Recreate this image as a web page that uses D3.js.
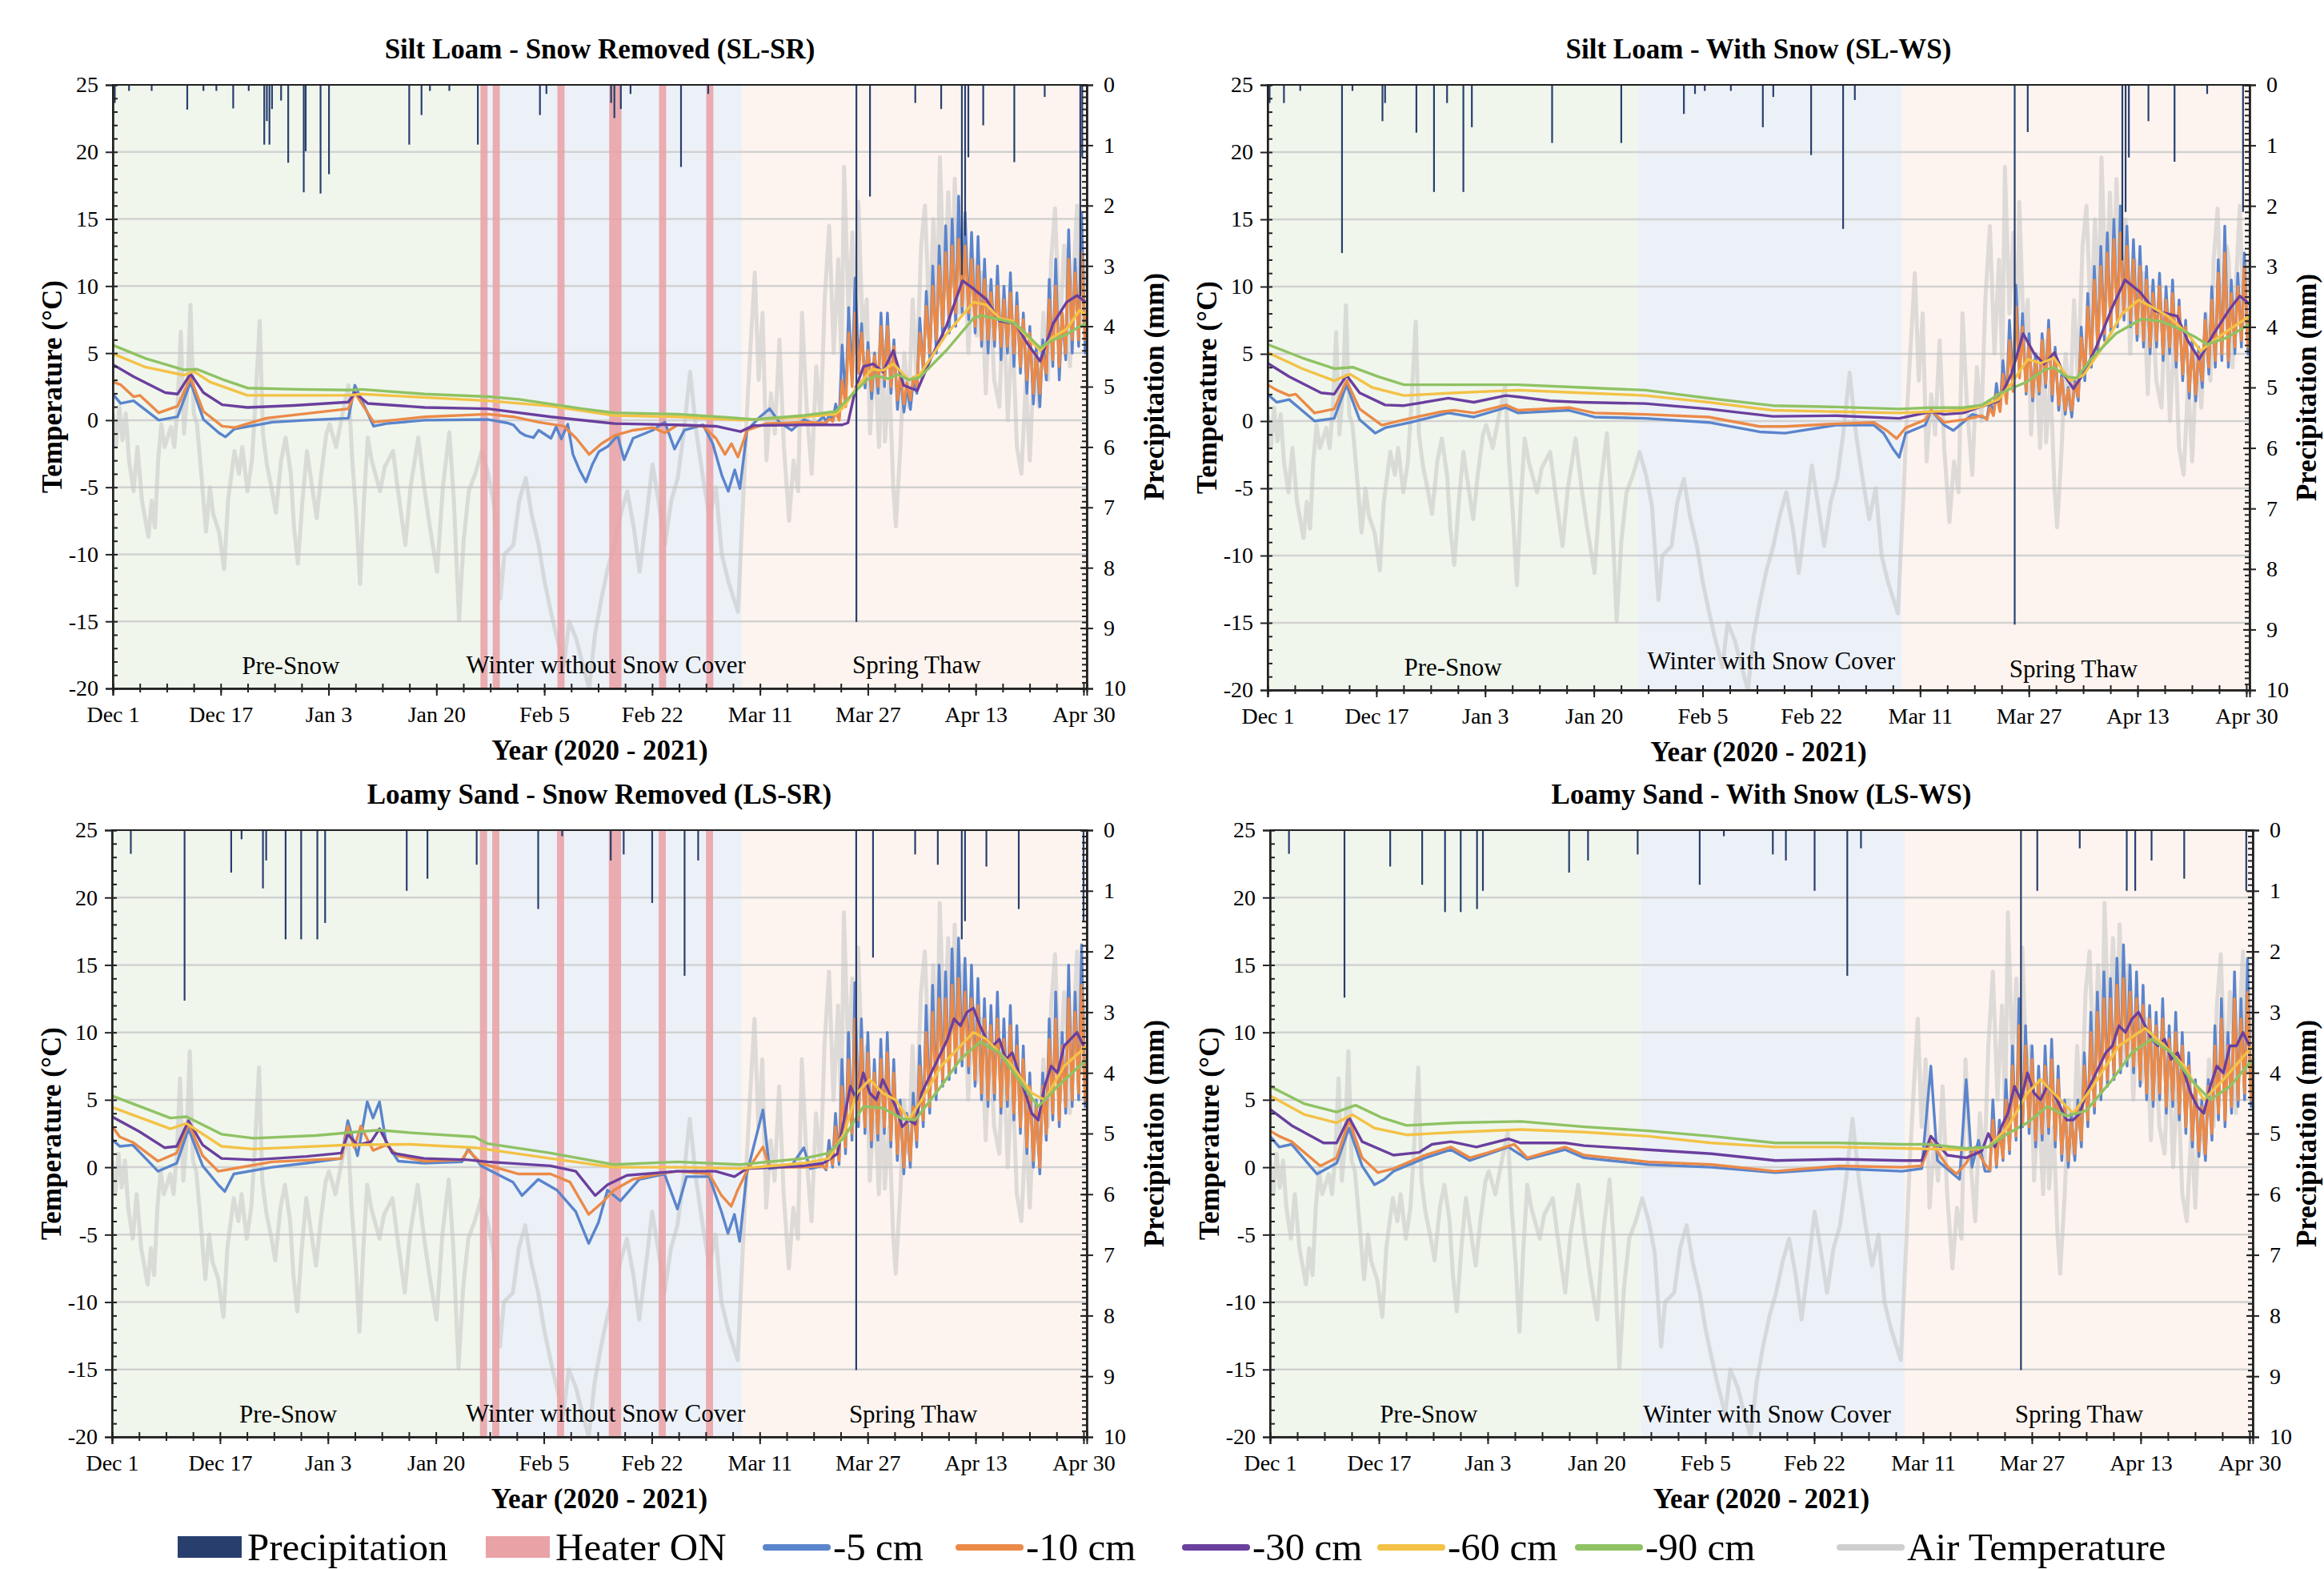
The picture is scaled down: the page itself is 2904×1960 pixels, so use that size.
<!DOCTYPE html>
<html><head><meta charset="utf-8">
<script src="https://cdn.jsdelivr.net/npm/d3@7/dist/d3.min.js"></script>
<style>
html,body{margin:0;padding:0;background:#fff;}
svg{display:block;}
text{font-family:"Liberation Serif","Times New Roman",serif;fill:#000;}
</style></head><body>
<svg id="chart" width="2904" height="1960"></svg>
<script>
// ---------------- DATA ----------------
const xTickDays = [0, 16.67, 33.33, 50, 66.67, 83.33, 100, 116.67, 133.33, 150];
const xTickLabels = ["Dec 1","Dec 17","Jan 3","Jan 20","Feb 5","Feb 22","Mar 11","Mar 27","Apr 13","Apr 30"];
const tempTicks = [25,20,15,10,5,0,-5,-10,-15,-20];
const precipTicks = [0,1,2,3,4,5,6,7,8,9,10];
const phaseBounds = [0, 56.8, 97.2, 150.5];
const heaterOn = [[56.8,57.9],[58.7,59.8],[68.7,69.8],[76.7,78.6],[84.4,85.5],[91.7,92.8]];
const seriesNames = ["-5 cm","-10 cm","-30 cm","-60 cm","-90 cm"];

const airTemp = [[0,0.5],[0.5,-2],[1,1],[1.5,-1.5],[2,0.5],[2.5,-3],[3.2,-5.3],[3.8,-2],[4.5,-6],[5.5,-8.7],[6,-6],[6.5,-8],[7,-3],[7.5,-0.3],[8,-2],[9,-0.5],[9.5,-2],[10,1],[10.5,6.6],[11,-1],[11.5,2],[12,8.6],[12.5,0.5],[13,-0.3],[13.5,-3],[14.4,-8.3],[15,-5],[15.5,-7],[16.4,-8.3],[17.2,-11.1],[17.8,-6],[18.8,-2.3],[19.5,-4],[20,-2],[20.8,-5.3],[21.5,-3],[22,1],[22.7,7.4],[23.2,-1],[23.8,-3.3],[24.5,-5],[25.2,-6.9],[26,-3],[26.7,-1.3],[27.5,-4],[28,-8],[28.6,-10.7],[29.3,-6],[30,-2.3],[30.5,-4],[31.5,-7.3],[32.2,-4],[33,-1],[33.5,-0.3],[34.5,-2],[35.5,0.5],[36.4,2.6],[37,-3],[37.6,-7],[38.2,-12.2],[38.8,-6],[39.4,-1.3],[40,-3],[41.3,-5.3],[42,-3.5],[43.3,-2.3],[44,-5],[45.2,-9.3],[46,-5],[47.2,-1.3],[48.2,-5.3],[49,-8],[50.1,-11.3],[51,-5],[52,-0.9],[52.7,-6],[53.5,-14.9],[54.2,-9],[55,-5.3],[56,-4],[57,-2.3],[58,-4],[58.9,-6.3],[59.9,-13.3],[60.5,-10],[61.9,-9.3],[62.8,-6],[63.8,-4.3],[64.7,-7],[65.8,-9.3],[66.7,-12],[67.7,-14.3],[68.5,-16],[69.7,-18.3],[70.5,-15],[71.6,-16.3],[72.5,-18],[73.6,-20],[74.5,-16],[75.5,-13.3],[76.5,-11],[77.5,-9.3],[78.5,-7],[79.5,-5.3],[80.5,-8],[81.4,-11.3],[82.5,-7],[83.4,-3.3],[84.3,-6],[85.3,-9.3],[86.3,-6],[87.3,-4.3],[88.2,-1],[89.2,3.6],[90.2,-1],[91.2,-4.3],[92.2,-7.3],[93.2,-5],[94.1,-10],[95.1,-12],[96.6,-14.3],[97.5,-5],[98,0.7],[98.6,6],[99.2,11],[99.8,3],[100.4,8],[101,-3],[101.7,2],[102.3,-1],[103,6],[103.7,-2],[104.5,-7.5],[105.2,-3],[105.9,-5.3],[106.5,8],[107.2,1],[108,-4],[108.7,4],[109.4,0],[110,9],[110.7,14.5],[111.4,5],[112.1,12],[112.6,4],[113,18.9],[113.7,8],[114.3,14],[114.9,5],[115.2,16.3],[115.9,6],[116.5,9],[117,-1],[117.7,5],[118.4,-2],[119,6],[119.3,-1.6],[120,3],[120.6,-5],[121,-7.9],[121.7,-2],[122.3,5],[123,1],[123.6,9],[124.2,3],[124.9,13],[125.5,16],[126.2,7],[126.8,15],[127.4,8],[127.8,19.6],[128.5,9],[129.1,17],[129.7,10],[130.1,18],[130.8,8],[131.5,15],[132.2,5],[132.9,12],[133.5,6.3],[134.2,11],[134.9,2],[135.5,10],[136.2,3],[137,1],[137.6,9],[138.3,0],[139,7],[139.7,-2],[140.4,-4],[141.1,3],[141.7,-3],[142.4,5],[143.1,1],[143.8,8],[144.5,3],[145,12],[145.6,15.8],[146.3,6],[147,13],[147.3,12],[147.9,4],[148.5,11],[149,16],[149.6,7],[150.3,12]];

const precipSLSR = [[0,0.5],[0.3,0.3],[2.5,0.1],[6,0.1],[11.5,0.41],[14,0.1],[16,0.1],[18.6,0.39],[21,0.1],[23.4,0.99],[23.8,0.6],[24.2,0.99],[24.6,0.4],[26,0.26],[27.1,1.29],[29.5,1.78],[29.8,1.1],[32.1,1.8],[33.4,1.48],[45.8,0.99],[47.7,0.5],[49,0.1],[52,0.1],[56.4,0.99],[66,0.5],[67,0.15],[77,0.3],[77.5,0.55],[78.5,0.4],[80,0.15],[87.8,1.36],[92,0.15],[114.9,8.9],[117,1.85],[124,0.3],[128,0.4],[131.2,3.15],[131.7,2.5],[132.2,1.2],[134.5,0.67],[139.3,1.28],[144,0.2],[149.5,3.5],[149.8,1.2]];
const precipSLWS = [[0,0.47],[0.3,0.3],[2.5,0.3],[5,0.1],[11.4,2.78],[13,0.1],[17.6,0.6],[18,0.3],[22.8,0.79],[25.5,1.77],[27.5,0.3],[30,1.77],[31.3,0.7],[43.6,0.96],[54.2,0.96],[63.8,0.48],[65.5,0.15],[67,0.1],[71,0.1],[75.9,0.7],[77.5,0.2],[83.3,1.16],[88.2,2.38],[90,0.25],[114.5,8.92],[116.5,0.78],[131,2.9],[131.5,2.1],[132,1.2],[135,0.6],[139,1.27],[144,0.15],[149.5,2.1]];
const precipLSSR = [[0,0.3],[2.9,0.39],[11.2,2.81],[18.4,0.7],[20,0.15],[23.3,0.96],[23.8,0.5],[26.8,1.8],[29.2,1.8],[31.7,1.8],[32.9,1.53],[45.5,1.0],[48.7,0.8],[56.3,0.57],[65.8,1.3],[69.5,0.1],[77,0.5],[79,0.4],[83.4,1.2],[88.4,2.4],[90.5,0.5],[114.9,8.9],[117.5,2.1],[124,0.4],[127.5,0.57],[131.2,1.8],[131.7,1.5],[135,0.6],[140,1.3],[150,1.5]];
const precipLSWS = [[0,0.3],[2.9,0.39],[11.4,2.76],[18.4,0.6],[23.3,0.9],[26.8,1.35],[29.2,1.35],[31.7,1.3],[32.6,1.0],[45.8,0.7],[48.7,0.5],[56.3,0.4],[65.8,0.9],[69.5,0.1],[77,0.4],[79,0.5],[83.4,1.0],[88.4,2.4],[90.5,0.3],[115,8.9],[117.5,1.0],[124,0.3],[131.2,1.0],[132.5,1.0],[135,0.5],[140,0.8],[149.5,1.0]];

// ---- Silt Loam - Snow Removed ----
const slsr5Pre = [[0,1.95],[1.2,1.25],[3.2,1.45],[7.1,0.0],[10,0.25],[12,2.85],[14,0.05],[16.4,-0.95],[17.4,-1.25],[18.8,-0.65],[24.7,-0.15],[30,0.0],[36.4,0.15],[37.4,2.6],[40.3,-0.45],[42.3,-0.25],[48.2,0.0],[58,0.05],[60.9,-0.2],[61.9,-0.35],[62.9,-0.9],[63.8,-1.15],[65,-1.3],[65.8,-0.75],[67.7,-1.35],[68.5,-0.5],[69.3,-1.4],[70.3,-0.3],[71.1,-2.55],[72.1,-3.7],[73.1,-4.6],[74.1,-3.3],[75.1,-2.35],[76.5,-1.95],[78,-1.15],[79,-2.95],[80.4,-1.35],[83.4,-0.75],[85.3,-0.15],[86.8,-2.15],[88.3,-0.75],[91.2,-0.35],[92.7,-1.75],[94.1,-4.1],[95.1,-5.3],[96.1,-3.7],[96.9,-5.1],[98,-0.75],[100,0.25],[101.5,0.85],[103,-0.15],[104.9,-0.75],[106.8,0.05],[108.5,-0.3],[109.8,0.25]];
const slsr5Min = [-0.1,0.0,0.2,1.5,3.0,4.0,2.4,1.6,2.0,2.5,2.0,0.8,0.6,0.8,2.0,3.5,4.5,5.0,6.0,6.5,7.0,8.0,7.5,6.5,5.5,5.0,5.5,4.5,5.0,4.0,3.5,2.0,1.2,1.0,3.0,4.0,3.0,4.5,5.0,5.5,5.0];
const slsr5Max = [0.4,1.2,5.6,8.4,10.6,7.2,5.8,5.0,8.0,8.0,6.0,3.5,2.5,3.0,7.6,9.6,11.5,13.0,14.5,15.0,16.7,15.5,14.0,13.7,12.0,10.5,11.5,10.0,11.0,9.5,8.0,7.0,5.5,6.0,10.5,12.0,8.0,14.2,12.0,15.5,9.0];
const slsr10Pre = [[0,2.85],[1.2,2.65],[3.2,1.75],[4.2,1.85],[7.1,0.55],[10,1.05],[12,3.15],[14,0.65],[16.9,-0.45],[18.8,-0.55],[23.7,0.15],[36.4,0.85],[37.4,2.05],[40.3,-0.15],[48.2,0.25],[58,0.45],[61.9,0.25],[65.8,-0.15],[69.7,-0.45],[71.6,-1.35],[73.6,-2.55],[75.5,-1.75],[77.5,-1.15],[80.4,-0.75],[83.4,-0.55],[85.3,-0.95],[87.3,-0.35],[91.2,-0.45],[93.2,-1.35],[94.6,-2.55],[95.6,-1.75],[96.6,-2.75],[98,-0.75],[101,-0.25],[106.8,-0.15],[109.5,-0.2]];
const slsr10Min = [-0.2,-0.1,0.0,1.0,2.5,3.5,2.8,2.2,2.5,3.0,2.5,1.5,1.2,1.5,2.5,4.0,5.0,6.0,7.0,7.5,8.0,8.5,8.0,7.0,6.0,6.0,6.0,5.5,5.5,5.0,4.0,3.0,2.0,2.0,3.5,4.5,4.0,5.0,6.0,6.0,6.0];
const slsr10Max = [0.1,0.6,3.0,6.5,8.0,6.5,5.2,4.8,7.0,7.0,5.5,3.5,2.8,3.2,6.5,8.5,10.0,11.5,12.5,13.0,13.5,13.0,12.0,11.5,10.5,9.5,10.0,9.0,9.5,8.5,7.5,6.5,5.0,5.0,9.0,10.0,8.0,12.0,11.0,12.5,9.0];
const slsr30 = [[0,4.15],[3.2,3.25],[8.1,2.05],[10,1.95],[12,3.45],[14,2.05],[16.9,1.15],[20.8,0.95],[28,1.1],[36.4,1.35],[37.4,2.05],[39.4,1.25],[48.2,0.95],[58,0.85],[67.7,0.25],[77.5,-0.25],[87.3,-0.35],[93.2,-0.45],[97,-0.85],[99,-0.4],[106.8,-0.35],[112.7,-0.35],[113.6,-0.2],[114.8,2.4],[116,4.0],[117.5,4.2],[119,3.6],[120.6,5.2],[122.2,2.6],[124.3,2.2],[126.4,4.6],[128.8,7.0],[131.3,10.4],[133,9.8],[135,9.0],[137,7.4],[139.5,7.2],[141.2,5.8],[143.3,4.4],[145.3,7.2],[147.4,8.8],[149,9.3],[150.3,8.8]];
const slsr60 = [[0,4.95],[5.1,3.95],[11,3.35],[12.5,3.65],[15,2.85],[20.8,1.85],[36.4,1.85],[38.4,1.95],[48,1.7],[58,1.45],[67.7,1.05],[77.5,0.35],[87.3,0.25],[97,0.0],[106.8,0.25],[111.7,0.45],[113,1.0],[115,2.5],[117.3,3.8],[119,3.7],[120.6,4.2],[123,3.0],[124.7,3.4],[128.8,6.4],[133,8.8],[135,8.6],[137,7.6],[139,7.4],[143.3,5.2],[145.3,6.2],[147.4,6.8],[149.4,8.2],[150.5,7.8]];
const slsr90 = [[0,5.6],[5.1,4.6],[11,3.75],[13,3.8],[16.9,3.05],[20.8,2.4],[28.6,2.3],[36.4,2.25],[38.4,2.3],[48.2,1.95],[58,1.75],[62.8,1.55],[72.6,0.85],[77.5,0.55],[87.3,0.45],[95.1,0.2],[99,0.05],[106.8,0.35],[111.7,0.65],[113.6,1.6],[116.5,3.0],[118,3.3],[119.8,3.1],[121.4,3.4],[123,3.0],[124.7,3.2],[128.8,5.2],[133,7.6],[134.2,7.8],[137,7.5],[139.5,7.2],[141.2,6.4],[143.3,5.4],[145.3,6.0],[147.4,6.4],[149.4,7.0],[150.5,7.2]];

// ---- Silt Loam - With Snow ----
const slws5Pre = [[0,2.0],[1.4,1.4],[3.3,1.6],[7.2,0.0],[10.2,0.2],[12.1,2.7],[14.1,0.1],[16.5,-0.9],[18,-0.5],[21.9,-0.1],[27.7,0.6],[31.6,0.3],[36.5,1.0],[38.4,0.6],[46.2,0.8],[50.1,0.3],[57.9,0.2],[67.6,-0.1],[75.4,-0.8],[79.3,-0.9],[87.1,-0.3],[92.9,-0.3],[94.4,-0.9],[95.9,-2.1],[96.8,-2.7],[97.8,-0.9],[100.8,-0.3],[101.7,0.8],[103.7,-0.3],[105.1,-0.7],[106.6,-0.1],[108,0.5],[109.5,0.3]];
const slws5Min = [0.2,0.5,0.8,1.5,2.5,3.5,2.0,1.5,2.0,2.5,1.5,0.8,0.5,0.3,1.5,3.0,4.0,5.0,6.0,6.5,7.0,7.5,7.0,6.0,5.5,5.0,5.5,4.5,5.0,4.0,3.0,1.7,1.5,2.5,3.5,4.0,4.5,4.0,5.0,5.5,5.0];
const slws5Max = [1.5,2.8,4.5,7.5,10.1,8.0,6.5,5.0,6.5,7.5,5.5,3.5,2.5,3.0,7.0,9.5,11.5,13.0,14.0,15.0,16.0,14.5,13.5,13.0,11.5,10.5,11.0,10.0,10.5,9.0,7.5,6.0,5.5,8.0,10.0,12.0,14.5,10.5,11.0,12.5,9.0];
const slws10Pre = [[0,2.7],[1.4,2.3],[3.3,1.9],[4.3,2.0],[7.2,0.6],[10.2,0.9],[12.1,3.0],[14.1,0.9],[17.5,-0.3],[20.9,0.1],[26.7,0.7],[28.7,0.8],[31.6,0.6],[36.5,1.2],[38.4,0.8],[46.2,1.0],[50.1,0.6],[57.9,0.5],[67.6,0.3],[75.4,-0.4],[79.3,-0.4],[87.1,-0.2],[92.9,-0.1],[94.9,-0.7],[96.4,-1.3],[97.8,-0.5],[100.8,0.1],[101.7,0.8],[103.7,-0.1],[106.6,0.1],[109.5,0.4]];
const slws10Min = [0.1,0.4,0.7,1.3,2.2,3.2,2.2,1.8,2.2,2.8,2.0,1.2,0.8,0.8,1.8,3.5,4.5,5.5,6.5,7.0,7.5,8.0,7.5,6.5,6.0,5.5,6.0,5.0,5.5,4.5,3.5,2.2,2.0,3.0,4.0,4.5,5.0,4.5,5.5,6.0,5.5];
const slws10Max = [1.0,2.0,3.5,6.0,8.5,7.0,5.8,4.5,6.0,6.8,5.0,3.2,2.4,2.8,6.2,8.5,10.5,11.5,12.5,13.5,14.0,13.0,12.0,11.5,10.5,9.5,10.0,9.0,9.5,8.5,7.0,5.5,5.0,7.5,9.0,11.0,12.5,9.5,10.0,11.5,8.5];
const slws30 = [[0,4.3],[3.3,3.3],[8.2,2.1],[10.2,2.0],[12.1,3.4],[14.1,2.1],[18,1.2],[20.9,1.15],[27.7,1.7],[31.6,1.4],[36.5,1.9],[38.4,1.8],[43.3,1.5],[48.1,1.4],[57.9,1.3],[67.6,0.9],[77.4,0.35],[87.1,0.4],[96.8,0.2],[101.7,0.7],[103.7,0.5],[106.6,0.6],[109.5,1.1],[112,1.5],[114,3.5],[115.8,6.5],[117.5,5.0],[119,4.25],[120.6,5.1],[122,3.5],[123.5,2.4],[125,3.5],[127,5.5],[129.5,8.5],[131.4,10.5],[133.7,9.6],[136,8.2],[139.4,7.8],[141,6.0],[142.8,4.6],[145,6.5],[147.4,8.3],[149,9.3],[150.5,8.7]];
const slws60 = [[0,5.1],[5.3,3.9],[10.2,3.0],[12.6,3.5],[16,2.5],[20.9,1.9],[28.7,2.1],[38.4,2.3],[48.1,2.1],[57.9,1.9],[67.6,1.4],[77.4,0.8],[87.1,0.7],[96.8,0.6],[106.6,0.8],[109.5,1.1],[112,1.6],[114,2.8],[116.5,4.6],[118.5,4.3],[120.5,4.7],[123,3.0],[125,3.4],[128,5.5],[131,8.0],[133.5,9.0],[135.5,8.5],[138,7.8],[141,6.5],[143,5.2],[145,6.0],[148,7.0],[150.5,7.8]];
const slws90 = [[0,5.7],[5.3,4.7],[10.2,3.9],[13.1,4.0],[17,3.3],[20.9,2.7],[28.7,2.7],[38.4,2.7],[48.1,2.5],[57.9,2.3],[67.6,1.7],[77.4,1.15],[87.1,1.05],[96.8,0.9],[101.7,1.0],[106.6,1.0],[109.5,1.2],[112.4,2.1],[116.3,2.9],[119,3.8],[120.5,4.0],[122.5,3.3],[124,3.2],[126,4.5],[130,6.5],[134,7.6],[137,7.4],[140,6.8],[142,6.3],[144,5.7],[147,6.2],[150.5,7.2]];

// ---- Loamy Sand - Snow Removed ----
const lssr5Pre = [[0,2.05],[1.2,1.55],[3.2,1.65],[7.1,-0.3],[10,0.3],[11.8,2.85],[14,0.1],[16.4,-1.3],[17.4,-1.8],[18.8,-0.5],[24.7,0.0],[30,0.3],[35.4,0.65],[36.4,3.45],[37.9,0.85],[39.4,4.85],[40.3,3.65],[41.3,4.85],[42.3,1.85],[44.2,0.45],[48.2,0.3],[54,0.4],[55,1.35],[57,0.1],[61.9,-1.1],[63.3,-2.1],[65.8,-0.9],[68.7,-1.7],[71.6,-3.3],[73.6,-5.65],[75.1,-4.1],[76.5,-1.7],[78.5,-2.5],[81.4,-0.9],[85.3,-0.5],[87.3,-3.1],[88.7,-0.7],[92.2,-0.7],[94.1,-3.3],[95.1,-4.9],[96.1,-3.5],[96.9,-5.5],[98,-0.5],[100.5,4.25],[101.5,-0.1],[104.9,0.1],[106.8,1.45],[107.8,-0.1],[109.8,0.1]];
const lssr5Min = [-0.2,0.0,0.2,1.0,2.0,3.0,2.5,1.5,2.0,2.5,1.5,0.5,-0.5,0.0,1.5,3.0,4.0,5.0,6.0,6.5,7.0,7.5,7.0,6.0,5.0,4.5,5.0,4.0,4.5,3.5,2.5,1.0,0.0,-0.5,2.0,3.5,3.0,4.0,4.5,5.0,4.5];
const lssr5Max = [2.0,4.0,8.0,10.0,13.7,11.0,10.0,8.0,9.5,10.0,8.0,5.0,4.0,5.5,9.0,12.0,13.5,15.0,14.5,16.2,17.0,15.5,15.0,14.0,12.5,12.0,13.0,11.0,12.0,10.5,9.0,7.0,5.0,7.0,11.0,13.0,10.0,15.0,13.0,16.5,10.0];
const lssr10Pre = [[0,3.05],[1.2,2.25],[3.2,1.85],[7.1,0.45],[10,1.05],[11.8,3.25],[14,0.85],[16.4,-0.3],[18.8,-0.1],[24.7,0.4],[35.4,0.65],[36.4,3.05],[37.4,1.45],[38.4,3.05],[40.3,1.25],[42.3,1.65],[44.2,0.85],[48.2,0.45],[54,0.55],[55,1.25],[57,0.3],[62.8,-0.5],[67.7,-0.5],[70.7,-1.1],[73.6,-3.5],[75.5,-2.7],[77.5,-1.7],[80.4,-0.9],[84.3,-0.5],[87.3,-0.3],[92.2,-0.5],[94.1,-2.1],[95.6,-2.9],[96.6,-1.7],[98,-0.3],[100.5,1.5],[101.5,0.0],[106.8,0.0],[109.8,0.1]];
const lssr10Min = [-0.1,0.2,0.5,1.5,2.5,3.5,3.0,2.0,2.5,3.0,2.0,1.0,0.0,0.5,2.0,3.5,4.5,5.5,6.5,7.0,7.5,8.0,7.5,6.5,5.5,5.0,5.5,4.5,5.0,4.0,3.0,1.5,0.5,0.0,2.5,4.0,3.5,4.5,5.0,5.5,5.0];
const lssr10Max = [1.2,3.0,6.0,8.0,11.0,9.5,8.5,7.0,8.0,8.5,7.0,4.5,3.5,4.5,7.5,10.0,11.5,12.5,12.5,13.5,14.0,13.0,12.5,12.0,11.0,10.5,11.0,9.5,10.5,9.0,8.0,6.0,4.5,6.0,9.5,11.0,9.0,12.5,11.5,13.5,9.0];
const lssr30 = [[0,3.75],[4.2,2.65],[8.1,1.45],[10,1.55],[11.8,3.45],[14,1.65],[16.9,0.65],[21.8,0.55],[30,0.8],[35.4,1.05],[36.4,2.45],[37.9,1.65],[40,1.9],[41.3,2.85],[43.3,1.05],[48.2,0.65],[55,0.55],[58,0.4],[67.7,0.1],[71.6,-0.3],[74.6,-2.1],[76.5,-1.3],[79.5,-0.6],[87.3,-0.3],[93.2,-0.3],[96.1,-0.7],[98,-0.1],[106.8,0.1],[109.8,0.3],[112,1.0],[113,3.5],[114,6.0],[115,5.0],[116,7.0],[117,5.5],[118,5.0],[119,6.5],[120,5.5],[121,4.5],[122,3.0],[123,3.5],[124,3.2],[125,5.5],[126,6.5],[127,7.5],[128,8.5],[129,9.5],[130,11.0],[131,10.5],[132,11.5],[133,11.8],[134,10.5],[135,9.5],[136,9.0],[137,9.5],[138,8.0],[139,8.5],[140,7.0],[141,5.5],[142,4.0],[143,3.5],[144,6.0],[145,7.5],[146,7.0],[147,9.0],[148,9.5],[149,10.0],[150,9.0]];
const lssr60 = [[0,4.45],[9,2.85],[11.5,3.25],[16.9,1.55],[21.8,1.35],[36.4,1.65],[46,1.7],[56,1.45],[67.7,0.65],[77.5,0.0],[87.3,0.0],[97,-0.1],[106.8,0.3],[110.7,0.65],[113,2.5],[115,5.5],[117,6.5],[119,5.5],[121,5.0],[123,3.5],[125,5.0],[128,7.5],[131,9.0],[133,10.0],[135,9.5],[137,8.5],[139,7.5],[142,5.5],[144,5.0],[147,7.5],[150.5,9.0]];
const lssr90 = [[0,5.3],[9,3.65],[11.5,3.75],[16.9,2.45],[21.8,2.15],[31.5,2.35],[38.4,2.65],[41.3,2.75],[46.2,2.55],[56,2.25],[58,1.75],[67.7,1.05],[77.5,0.2],[87.3,0.4],[97,0.2],[106.8,0.65],[110.7,1.05],[113,2.2],[116,4.5],[119,4.4],[122,3.6],[124,3.5],[128,6.0],[131,8.0],[134,9.3],[137,8.5],[140,6.5],[143,4.5],[146,6.0],[150.5,8.0]];

// ---- Loamy Sand - With Snow ----
const lsws5Pre = [[0,2.3],[1.4,1.5],[3.3,1.7],[7.2,-0.5],[10.2,0.3],[12.1,2.9],[14.1,0.1],[16,-1.3],[17.5,-0.9],[18.9,-0.3],[23.8,0.7],[27.7,1.3],[30.6,0.5],[36.5,1.5],[39.4,0.6],[45.2,1.3],[48.1,0.7],[52,0.5],[57.9,0.2],[67.6,0.0],[77.4,-0.4],[87.1,-0.1],[96.8,-0.3],[99.8,-0.1],[101.2,7.5],[102.2,0.5],[104.6,-0.5],[105.6,-0.9],[106.6,6.5],[107.5,0.0],[108.5,2.0],[109.5,-0.3]];
const lsws5Min = [-0.3,0.0,0.5,1.0,2.0,3.0,2.5,1.5,2.0,2.5,1.5,0.5,0.0,0.5,1.5,3.0,4.0,5.0,6.0,6.5,7.0,7.5,7.0,6.0,5.0,4.5,5.0,4.0,4.5,3.5,2.5,1.5,0.8,0.5,2.0,3.5,3.0,4.0,4.5,5.0,4.5];
const lsws5Max = [5.0,3.5,6.5,9.0,12.5,10.5,9.0,7.5,9.0,9.5,7.5,5.0,4.0,5.0,8.5,11.5,13.0,14.5,14.0,15.5,16.5,15.0,14.5,13.5,12.0,11.5,12.5,10.5,11.5,10.0,8.5,6.5,5.0,6.5,10.5,12.5,10.0,14.5,12.5,15.5,9.5];
const lsws10Pre = [[0,2.7],[1.4,2.3],[3.3,1.9],[7.7,0.1],[10.2,0.7],[12.1,3.5],[14.1,0.7],[16.5,-0.4],[18.9,-0.1],[23.8,0.9],[27.7,1.5],[30.6,0.7],[33.5,1.1],[37.4,1.7],[39.4,0.7],[45.2,1.5],[48.1,0.9],[52,0.7],[57.9,0.4],[67.6,0.2],[77.4,-0.3],[87.1,0.1],[96.8,0.0],[99.8,0.1],[101.2,1.9],[103.7,0.1],[105.1,-0.5],[106.6,0.3],[108,1.5],[109.5,0.2]];
const lsws10Min = [-0.2,0.2,0.7,1.3,2.3,3.3,3.0,2.0,2.5,3.0,2.0,1.0,0.5,1.0,2.0,3.5,4.5,5.5,6.5,7.0,7.5,8.0,7.5,6.5,5.5,5.0,5.5,4.5,5.0,4.0,3.0,2.0,1.2,1.0,2.5,4.0,3.5,4.5,5.0,5.5,5.0];
const lsws10Max = [3.5,2.8,5.0,7.5,10.5,9.0,8.0,6.5,7.5,8.0,6.5,4.5,3.5,4.5,7.5,10.0,11.5,12.5,12.5,13.5,14.0,13.0,12.5,12.0,11.0,10.5,11.0,9.5,10.0,9.0,7.5,6.0,4.5,6.0,9.0,11.0,9.0,12.5,11.0,13.0,9.0];
const lsws30 = [[0,4.3],[3.3,3.1],[8.2,1.8],[10.2,1.8],[12.1,3.7],[14.1,1.9],[18.9,0.9],[22.8,1.1],[24.8,1.7],[27.7,1.9],[31.6,1.5],[36.5,2.1],[38.4,1.8],[45.2,1.8],[48.1,1.6],[57.9,1.3],[67.6,1.0],[77.4,0.5],[87.1,0.6],[96.8,0.5],[99.8,0.5],[101.2,2.3],[103.7,0.9],[106.6,0.7],[109,1.2],[110,2.5],[111,1.5],[112,3.0],[113,4.0],[114,6.0],[115,5.0],[116,7.0],[117,5.5],[118,5.0],[119,6.0],[120,5.5],[121,4.5],[122,3.5],[123,3.5],[124,4.0],[125,5.5],[126,6.5],[127,7.5],[128,8.5],[129,9.0],[130,10.5],[131,10.0],[132,11.0],[133,11.5],[134,10.5],[135,9.5],[136,9.0],[137,9.5],[138,8.0],[139,8.5],[140,7.0],[141,5.5],[142,4.5],[143,4.0],[144,6.0],[145,7.5],[146,7.0],[147,9.0],[148,9.0],[149,10.0],[150,9.0]];
const lsws60 = [[0,5.3],[5.3,3.9],[10.2,3.3],[12.6,3.9],[16,2.9],[20.9,2.4],[28.7,2.6],[38.4,2.8],[48.1,2.6],[57.9,2.3],[67.6,1.8],[77.4,1.5],[87.1,1.5],[96.8,1.4],[106.6,1.3],[110,1.5],[113,3.0],[116,5.5],[118,6.5],[121,5.0],[123,4.0],[126,6.0],[130,9.0],[134,10.3],[137,9.0],[140,7.5],[143,5.0],[146,6.5],[150.5,9.0]];
const lsws90 = [[0,6.0],[5.3,4.7],[10.2,4.1],[13.1,4.6],[17,3.7],[20.9,3.1],[28.7,3.3],[38.4,3.4],[48.1,3.0],[57.9,2.7],[67.6,2.3],[77.4,1.8],[87.1,1.8],[96.8,1.7],[100.8,1.7],[106.6,1.4],[110,1.5],[113,2.5],[116,3.3],[119,4.5],[122,3.8],[125,4.2],[129,6.5],[132,8.5],[135,9.5],[138,8.5],[141,6.5],[144,5.0],[147,6.0],[150.5,8.0]];

// ---------------- DRAWING ----------------
const C = {
  precip:"#283f6e", heater:"#e9a2a5", air:"#c4c4c4",
  s:["#5a84cc","#eb8a48","#6a3f9e","#f3c246","#8fc263"],
  bands:["#f0f6ec","#ecf1f8","#fdf4ef"], grid:"#d2d2d2", axis:"#222"
};
const diurnalStart = 110;
function withDiurnal(pre, mins, maxs){
  const pts = pre.slice();
  mins.forEach((mn,i)=>{ pts.push([diurnalStart+i+0.25, mn]); pts.push([diurnalStart+i+0.7, maxs[i]]); });
  return pts;
}

const panels = [
  {id:"p1", title:"Silt Loam - Snow Removed (SL-SR)", x0:141, x1:1358, y0:106, y1:860, heater:true,
   winter:"Winter without Snow Cover", lab:[[27.5,-18.3],[76.2,-18.2],[124.2,-18.2]], precip:precipSLSR,
   series:[withDiurnal(slsr5Pre,slsr5Min,slsr5Max), withDiurnal(slsr10Pre,slsr10Min,slsr10Max), slsr30, slsr60, slsr90]},
  {id:"p2", title:"Silt Loam - With Snow (SL-WS)", x0:1584, x1:2811, y0:106, y1:862, heater:false,
   winter:"Winter with Snow Cover", lab:[[28.4,-18.3],[77.2,-17.8],[123.5,-18.4]], precip:precipSLWS,
   series:[withDiurnal(slws5Pre,slws5Min,slws5Max), withDiurnal(slws10Pre,slws10Min,slws10Max), slws30, slws60, slws90]},
  {id:"p3", title:"Loamy Sand - Snow Removed (LS-SR)", x0:140, x1:1358, y0:1037, y1:1795, heater:true,
   winter:"Winter without Snow Cover", lab:[[27.2,-18.3],[76.2,-18.2],[123.7,-18.3]], precip:precipLSSR,
   series:[withDiurnal(lssr5Pre,lssr5Min,lssr5Max), withDiurnal(lssr10Pre,lssr10Min,lssr10Max), lssr30, lssr60, lssr90]},
  {id:"p4", title:"Loamy Sand - With Snow (LS-WS)", x0:1587, x1:2815, y0:1037, y1:1795, heater:false,
   winter:"Winter with Snow Cover", lab:[[24.3,-18.3],[76.1,-18.3],[123.9,-18.3]], precip:precipLSWS,
   series:[withDiurnal(lsws5Pre,lsws5Min,lsws5Max), withDiurnal(lsws10Pre,lsws10Min,lsws10Max), lsws30, lsws60, lsws90]}
];

const svg = d3.select("#chart");
svg.append("rect").attr("width",2904).attr("height",1960).attr("fill","#fff");

panels.forEach(p => {
  const g = svg.append("g");
  const x = d3.scaleLinear().domain([0,150.5]).range([p.x0,p.x1]);
  const y = d3.scaleLinear().domain([-20,25]).range([p.y1,p.y0]);
  const yP = d3.scaleLinear().domain([0,10]).range([p.y0,p.y1]);
  const cw = p.x1-p.x0, ch = p.y1-p.y0;

  const defs = g.append("defs");
  defs.append("clipPath").attr("id","clip-"+p.id).append("rect")
    .attr("x",p.x0).attr("y",p.y0).attr("width",cw).attr("height",ch);
  const inner = g.append("g").attr("clip-path","url(#clip-"+p.id+")");

  for (let i=0;i<3;i++){
    inner.append("rect").attr("x",x(phaseBounds[i])).attr("y",p.y0)
      .attr("width",x(phaseBounds[i+1])-x(phaseBounds[i])).attr("height",ch)
      .attr("fill",C.bands[i]);
  }
  inner.selectAll(".grid").data(tempTicks).enter().append("line")
    .attr("x1",p.x0).attr("x2",p.x1).attr("y1",d=>y(d)).attr("y2",d=>y(d))
    .attr("stroke",C.grid).attr("stroke-width",2.5);

  const line = d3.line().x(d=>x(d[0])).y(d=>y(d[1]));
  inner.append("path").attr("d",line(airTemp)).attr("fill","none")
    .attr("stroke",C.air).attr("stroke-opacity",0.55).attr("stroke-width",5).attr("stroke-linejoin","round");

  if (p.heater){
    inner.selectAll(".heat").data(heaterOn).enter().append("rect")
      .attr("x",d=>x(d[0])).attr("width",d=>x(d[1])-x(d[0]))
      .attr("y",p.y0).attr("height",ch).attr("fill",C.heater).attr("fill-opacity",0.88);
  }

  p.series.forEach((s,i)=>{
    inner.append("path").attr("d",line(s)).attr("fill","none")
      .attr("stroke",C.s[i]).attr("stroke-width",3.4).attr("stroke-linejoin","round");
  });

  inner.selectAll(".pr").data(p.precip).enter().append("line")
    .attr("x1",d=>x(d[0])).attr("x2",d=>x(d[0]))
    .attr("y1",yP(0)).attr("y2",d=>yP(d[1]))
    .attr("stroke",C.precip).attr("stroke-width",2.2);

  g.append("rect").attr("x",p.x0).attr("y",p.y0).attr("width",cw).attr("height",ch)
    .attr("fill","none").attr("stroke",C.axis).attr("stroke-width",2);

  const phaseNames = ["Pre-Snow", p.winter, "Spring Thaw"];
  phaseNames.forEach((t,i)=>{
    g.append("text").attr("x",x(p.lab[i][0])).attr("y",y(p.lab[i][1]))
      .attr("text-anchor","middle").attr("dy","0.35em").style("font-size","31px").text(t);
  });

  const styleAxis = (sel, fs) => {
    sel.select(".domain").attr("stroke",C.axis).attr("stroke-width",2);
    sel.selectAll(".tick line").attr("stroke",C.axis).attr("stroke-width",2);
    sel.selectAll("text").style("font-size",fs).style("font-family",'"Liberation Serif","Times New Roman",serif').attr("fill","#000");
  };
  const plain = d => String(d);

  const la = g.append("g").attr("transform",`translate(${p.x0},0)`)
    .call(d3.axisLeft(y).tickValues(tempTicks).tickSize(9).tickPadding(9).tickFormat(plain));
  styleAxis(la,"28px");
  const lm = g.append("g").attr("transform",`translate(${p.x0},0)`)
    .call(d3.axisLeft(y).tickValues(d3.range(-20,26,1)).tickSize(-6).tickFormat(""));
  styleAxis(lm,"0px");

  const ra = g.append("g").attr("transform",`translate(${p.x1},0)`)
    .call(d3.axisRight(yP).tickValues(precipTicks).tickSize(8).tickPadding(13).tickFormat(plain));
  styleAxis(ra,"28px");
  const ra2 = g.append("g").attr("transform",`translate(${p.x1},0)`)
    .call(d3.axisRight(yP).tickValues(precipTicks).tickSize(-8).tickFormat(""));
  styleAxis(ra2,"0px");
  const rm = g.append("g").attr("transform",`translate(${p.x1},0)`)
    .call(d3.axisRight(yP).tickValues(d3.range(0,101,1).map(v=>v/10)).tickSize(-6).tickFormat(""));
  styleAxis(rm,"0px");

  const minorX = d3.range(0,37).map(k=>k*150/36);
  const ba = g.append("g").attr("transform",`translate(0,${p.y1})`)
    .call(d3.axisBottom(x).tickValues(xTickDays).tickSize(9).tickPadding(13).tickFormat((d,i)=>xTickLabels[i]));
  styleAxis(ba,"28px");
  const bm = g.append("g").attr("transform",`translate(0,${p.y1})`)
    .call(d3.axisBottom(x).tickValues(minorX).tickSize(-6).tickFormat(""));
  styleAxis(bm,"0px");
  const bm2 = g.append("g").attr("transform",`translate(0,${p.y1})`)
    .call(d3.axisBottom(x).tickValues(minorX).tickSize(5).tickFormat(""));
  styleAxis(bm2,"0px");

  const cx = (p.x0+p.x1)/2, cy = (p.y0+p.y1)/2;
  g.append("text").attr("x",cx).attr("y",p.y0-33).attr("text-anchor","middle")
    .style("font-size","35px").style("font-weight","bold").text(p.title);
  g.append("text").attr("x",cx).attr("y",p.y1+89).attr("text-anchor","middle")
    .style("font-size","35px").style("font-weight","bold").text("Year (2020 - 2021)");
  g.append("text").attr("transform",`translate(${p.x0-64},${cy}) rotate(-90)`).attr("text-anchor","middle")
    .style("font-size","35px").style("font-weight","bold").text("Temperature (°C)");
  const px = Math.min(p.x1+96, 2894);
  g.append("text").attr("transform",`translate(${px},${cy}) rotate(-90)`).attr("text-anchor","middle")
    .style("font-size","35px").style("font-weight","bold").text("Precipitation (mm)");
});

const legendItems = [
  {label:"Precipitation", kind:"rect", color:C.precip, sx:222, tx:309},
  {label:"Heater ON", kind:"rect", color:C.heater, sx:607, tx:694},
  {label:seriesNames[0], kind:"line", color:C.s[0], sx:954, tx:1041},
  {label:seriesNames[1], kind:"line", color:C.s[1], sx:1195, tx:1282},
  {label:seriesNames[2], kind:"line", color:C.s[2], sx:1478, tx:1565},
  {label:seriesNames[3], kind:"line", color:C.s[3], sx:1722, tx:1809},
  {label:seriesNames[4], kind:"line", color:C.s[4], sx:1969, tx:2056},
  {label:"Air Temperature", kind:"line", color:"#cfcfcf", sx:2296, tx:2383}
];
const lg = svg.append("g");
legendItems.forEach(it=>{
  if (it.kind==="rect"){
    lg.append("rect").attr("x",it.sx).attr("y",1919).attr("width",80).attr("height",27).attr("fill",it.color);
  } else {
    lg.append("line").attr("x1",it.sx+3).attr("x2",it.sx+80).attr("y1",1933).attr("y2",1933)
      .attr("stroke",it.color).attr("stroke-width",8).attr("stroke-linecap","round");
  }
  lg.append("text").attr("x",it.tx).attr("y",1949).style("font-size","49px").text(it.label);
});
</script></body></html>
